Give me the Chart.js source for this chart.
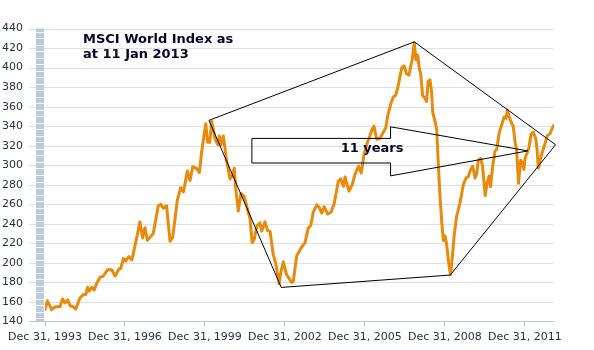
<!DOCTYPE html>
<html>
<head>
<meta charset="utf-8">
<script src="https://cdn.jsdelivr.net/npm/chart.js@4/dist/chart.umd.min.js"></script>
<style>
  html, body { margin: 0; padding: 0; background: #fff; }
  canvas { display: block; }
</style>
</head>
<body>
<canvas id="chart" width="594" height="350"></canvas>
<script>
// MSCI World index (decimal years)
const years = [
  1994.00, 1994.09, 1994.25, 1994.38, 1994.56, 1994.66, 1994.75, 1994.85, 1994.94, 1995.06,
  1995.15, 1995.31, 1995.44, 1995.53, 1995.60, 1995.66, 1995.75, 1995.84, 1995.94, 1996.06,
  1996.19, 1996.35, 1996.50, 1996.63, 1996.78, 1996.84, 1996.94, 1997.03, 1997.14, 1997.26,
  1997.44, 1997.56, 1997.66, 1997.75, 1997.84, 1998.06, 1998.25, 1998.34, 1998.44, 1998.56,
  1998.69, 1998.79, 1998.96, 1999.09, 1999.19, 1999.34, 1999.44, 1999.54, 1999.69, 1999.79,
  1999.88, 2000.03, 2000.10, 2000.18, 2000.25, 2000.38, 2000.48, 2000.54, 2000.60, 2000.69,
  2000.81, 2000.94, 2001.02, 2001.10, 2001.15, 2001.25, 2001.35, 2001.47, 2001.60, 2001.69,
  2001.77, 2001.85, 2001.95, 2002.06, 2002.13, 2002.25, 2002.35, 2002.44, 2002.56, 2002.65,
  2002.78, 2002.85, 2002.94, 2003.06, 2003.25, 2003.31, 2003.44, 2003.63, 2003.75, 2003.87,
  2003.97, 2004.06, 2004.19, 2004.28, 2004.38, 2004.47, 2004.60, 2004.73, 2004.85, 2005.00,
  2005.09, 2005.19, 2005.25, 2005.40, 2005.52, 2005.63, 2005.76, 2005.86, 2005.97, 2006.10,
  2006.19, 2006.27, 2006.34, 2006.44, 2006.56, 2006.69, 2006.78, 2006.87, 2006.98, 2007.06,
  2007.15, 2007.23, 2007.29, 2007.38, 2007.47, 2007.56, 2007.65, 2007.73, 2007.77, 2007.85,
  2007.91, 2007.98, 2008.04, 2008.09, 2008.16, 2008.25, 2008.31, 2008.37, 2008.44, 2008.50,
  2008.54, 2008.63, 2008.69, 2008.75, 2008.81, 2008.88, 2008.94, 2009.00, 2009.06, 2009.15,
  2009.21, 2009.27, 2009.35, 2009.44, 2009.56, 2009.69, 2009.79, 2009.87, 2009.94, 2010.04,
  2010.13, 2010.19, 2010.25, 2010.34, 2010.41, 2010.51, 2010.59, 2010.66, 2010.71, 2010.79,
  2010.88, 2010.94, 2011.04, 2011.13, 2011.22, 2011.29, 2011.34, 2011.41, 2011.50, 2011.56,
  2011.63, 2011.69, 2011.76, 2011.84, 2011.91, 2011.96, 2012.01, 2012.09, 2012.15, 2012.23,
  2012.31, 2012.41, 2012.46, 2012.50, 2012.63, 2012.74, 2012.84, 2012.94, 2013.03, 2013.08
];
const values = [
  152, 161, 152, 155, 155, 163, 159, 162, 156, 155,
  152.5, 164, 167.5, 167.5, 175, 171, 175, 172, 179, 185,
  186.5, 193, 193, 186.5, 194, 194, 204.5, 202, 206.5, 203,
  226, 242, 225.5, 236, 223, 230, 258.5, 260, 256, 258.5,
  222, 226, 264, 277, 272.5, 294, 284.5, 298.5, 296.5, 292.5,
  314.7, 342.5, 323.5, 323.5, 345, 327, 321, 330, 321, 330,
  305, 286, 289, 297, 277, 253, 271, 268, 254.5, 245,
  220.5, 224.5, 238, 241, 232.5, 242, 233, 232.5, 208.5, 200,
  178.5, 191, 201, 188, 180, 181, 207, 216.5, 220.5, 235.5,
  238.5, 252, 259.5, 257, 251, 257.5, 250, 252, 261, 283.5,
  286, 278.5, 288, 273.5, 280, 291, 299, 292, 311.6, 324,
  330.5, 337, 340, 326.7, 327.3, 333.7, 338.4, 352.7, 363.8, 370,
  371.6, 379.5, 387.5, 400, 401.7, 393.8, 392.2, 403.3, 408, 425.5,
  408, 412.8, 398.5, 393.8, 371.6, 368.5, 365.3, 385.9, 387.5, 374.8,
  354.3, 344.8, 336.8, 302, 270.4, 242, 223, 227.6, 219.7, 197.6,
  188, 204, 229, 248, 261, 280, 287, 288, 294, 299,
  287, 291, 305, 307, 299, 269, 283, 289, 278, 299,
  314.7, 316, 333.7, 341.6, 349.5, 348, 356.5, 349.5, 343, 340,
  324, 314.7, 281.5, 305, 302, 295.7, 308, 313, 318, 332,
  334, 327, 315, 297, 311.6, 321, 330.5, 332, 338.4, 340.6
];

const tickYears = [1994, 1997, 2000, 2003, 2006, 2009, 2012];
const tickLabels = ['Dec 31, 1993', 'Dec 31, 1996', 'Dec 31, 1999', 'Dec 31, 2002',
                    'Dec 31, 2005', 'Dec 31, 2008', 'Dec 31, 2011'];
const gridValues = [160, 180, 200, 220, 240, 260, 280, 300, 320, 340, 360, 380, 400, 420, 440];

// drawn annotations, in data units [year, value]
const pentagon = [[2000.15, 346], [2007.85, 426.4], [2013.15, 321], [2009.20, 187.5], [2002.86, 174.8]];
const arrow = [[2001.76, 327.5], [2006.96, 327.5], [2006.96, 339.4], [2012.11, 314.7],
               [2006.96, 289.1], [2006.96, 302.3], [2001.76, 302.3]];
const arrowText = { x: 2005.09, y: 316.6, text: '11 years' };
const titleLines = ['MSCI World Index as', 'at 11 Jan 2013'];

const FONT = "'DejaVu Sans', Verdana, sans-serif";

const decor = {
  id: 'decor',
  beforeDatasetsDraw(chart) {
    const { ctx, chartArea: a, scales: { y } } = chart;
    ctx.save();
    // horizontal grid
    ctx.fillStyle = '#e0e0e0';
    gridValues.forEach(v => {
      const py = Math.round(y.getPixelForValue(v));
      ctx.fillRect(29, py, a.right - 29, 1);
    });
    // blue band left of plot
    ctx.fillStyle = '#bccbdb';
    ctx.fillRect(36, a.top, 8, a.bottom - a.top);
    ctx.fillStyle = '#ffffff';
    for (let v = 140 + 10 / 3; v < 440; v += 20 / 3) {
      ctx.fillRect(36, Math.round(y.getPixelForValue(v)), 8, 1);
    }
    // bottom axis line
    ctx.fillStyle = '#b7c8d9';
    ctx.fillRect(29, Math.round(a.bottom), a.right - 29, 1);
    ctx.restore();
  },
  afterDatasetsDraw(chart) {
    const { ctx, scales: { x, y } } = chart;
    const px = p => [x.getPixelForValue(p[0]), y.getPixelForValue(p[1])];
    ctx.save();
    ctx.strokeStyle = '#000';
    ctx.lineWidth = 1;
    const poly = (pts) => {
      ctx.beginPath();
      pts.forEach((p, i) => { const [u, v] = px(p); i ? ctx.lineTo(u, v) : ctx.moveTo(u, v); });
      ctx.closePath();
      ctx.stroke();
    };
    poly(pentagon);
    poly(arrow);
    ctx.fillStyle = '#00062a';
    ctx.font = 'bold 13px ' + FONT;
    ctx.textBaseline = 'middle';
    ctx.textAlign = 'left';
    const [tx, ty] = px([arrowText.x, arrowText.y]);
    ctx.fillText(arrowText.text, tx, ty);
    ctx.textBaseline = 'alphabetic';
    titleLines.forEach((l, i) => ctx.fillText(l, 83, 43 + i * 15));
    ctx.restore();
  }
};

new Chart(document.getElementById('chart'), {
  type: 'line',
  data: {
    datasets: [{
      data: years.map((yr, i) => ({ x: yr, y: values[i] })),
      borderColor: '#e88a0c',
      borderWidth: 3,
      borderJoinStyle: 'round',
      borderCapStyle: 'round',
      pointRadius: 0,
      tension: 0,
      fill: false
    }]
  },
  options: {
    responsive: false,
    animation: false,
    devicePixelRatio: 1,
    layout: { padding: { top: 8, right: 40, left: 0, bottom: 0 } },
    plugins: { legend: { display: false }, tooltip: { enabled: false } },
    scales: {
      x: {
        type: 'linear',
        min: 1994,
        max: 2013.09,
        afterBuildTicks: s => { s.ticks = tickYears.map(v => ({ value: v })); },
        afterFit: s => { s.height = 26; },
        grid: { drawOnChartArea: false, drawTicks: true, tickLength: 5, tickColor: '#b7c8d9' },
        border: { display: false },
        ticks: {
          padding: 4,
          maxRotation: 0,
          autoSkip: false,
          color: '#1f3040',
          font: { family: FONT, size: 11 },
          callback: (v) => tickLabels[tickYears.indexOf(v)] || ''
        }
      },
      y: {
        min: 140,
        max: 440,
        afterFit: s => { s.width = 45; },
        grid: { display: false, drawTicks: false },
        border: { display: false },
        ticks: {
          stepSize: 20,
          padding: 22,
          color: '#1f3040',
          font: { family: FONT, size: 11 }
        }
      }
    }
  },
  plugins: [decor]
});
</script>
</body>
</html>
